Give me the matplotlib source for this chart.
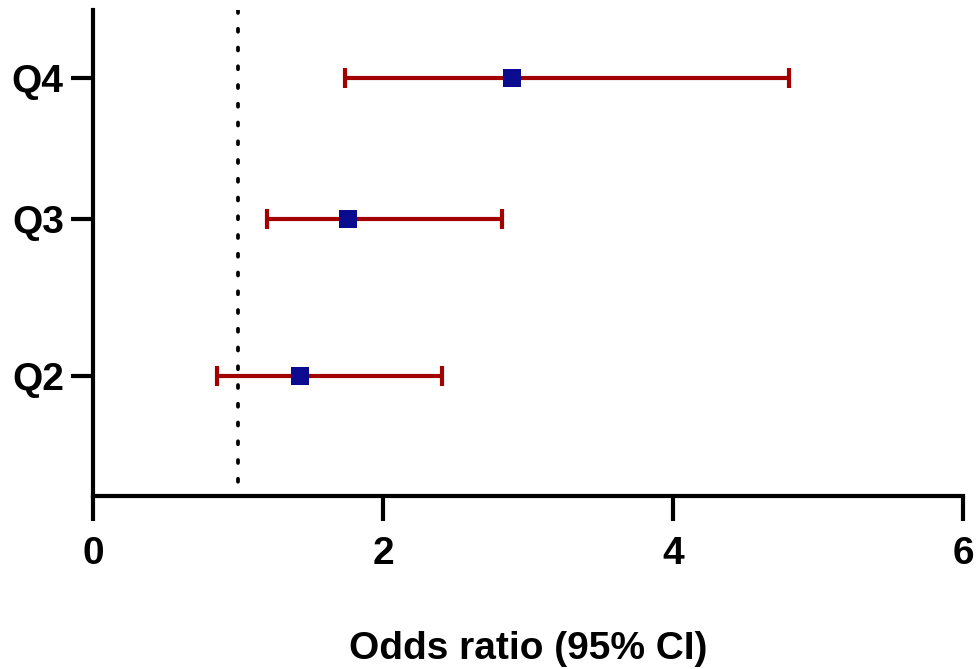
import matplotlib
matplotlib.use("Agg")
import matplotlib.pyplot as plt

categories = ["Q2", "Q3", "Q4"]
odds_ratio = [1.43, 1.76, 2.89]
ci_lower = [0.855, 1.20, 1.74]
ci_upper = [2.41, 2.82, 4.80]
y_positions = [1.0, 2.31, 3.48]
x_ticks = [0, 2, 4, 6]
reference_value = 1.0

plt.rcParams['font.family'] = ['Liberation Sans', 'DejaVu Sans']

fig = plt.figure(figsize=(9.8, 6.69), dpi=100)
ax = fig.add_axes([93/980, 1 - 496/669, (963-93)/980, (496-10)/669])

xerr = [[o - l for o, l in zip(odds_ratio, ci_lower)],
        [u - o for o, u in zip(odds_ratio, ci_upper)]]
ax.errorbar(odds_ratio, y_positions, xerr=xerr, fmt='none', ecolor='#a30000',
            elinewidth=3, capsize=7.5, capthick=3, zorder=2)
ax.plot(odds_ratio, y_positions, 's', color='#0b0b8f', markersize=13, zorder=3,
        markeredgewidth=0)
ax.plot([reference_value, reference_value], [4.05, 0], color='black', linewidth=2.7,
        linestyle=(0, (0.8, 4.2)), dash_capstyle='round', zorder=1)

ax.set_xlim(0, 6)
ax.set_ylim(0, 4.05)
ax.set_xticks(x_ticks)
ax.set_xticklabels([str(t) for t in x_ticks])
ax.set_yticks(y_positions)
ax.set_yticklabels(categories)

for s in ['top', 'right']:
    ax.spines[s].set_visible(False)
for s in ['left', 'bottom']:
    ax.spines[s].set_linewidth(3)

ax.tick_params(axis='both', width=3, length=18, labelsize=28, pad=11)
ax.tick_params(axis='y', length=16, pad=5)
for lab in ax.get_xticklabels() + ax.get_yticklabels():
    lab.set_fontweight('bold')

ax.set_xlabel("Odds ratio (95% CI)", fontsize=28, fontweight='bold', labelpad=42)

fig.savefig("out.png", dpi=100)
